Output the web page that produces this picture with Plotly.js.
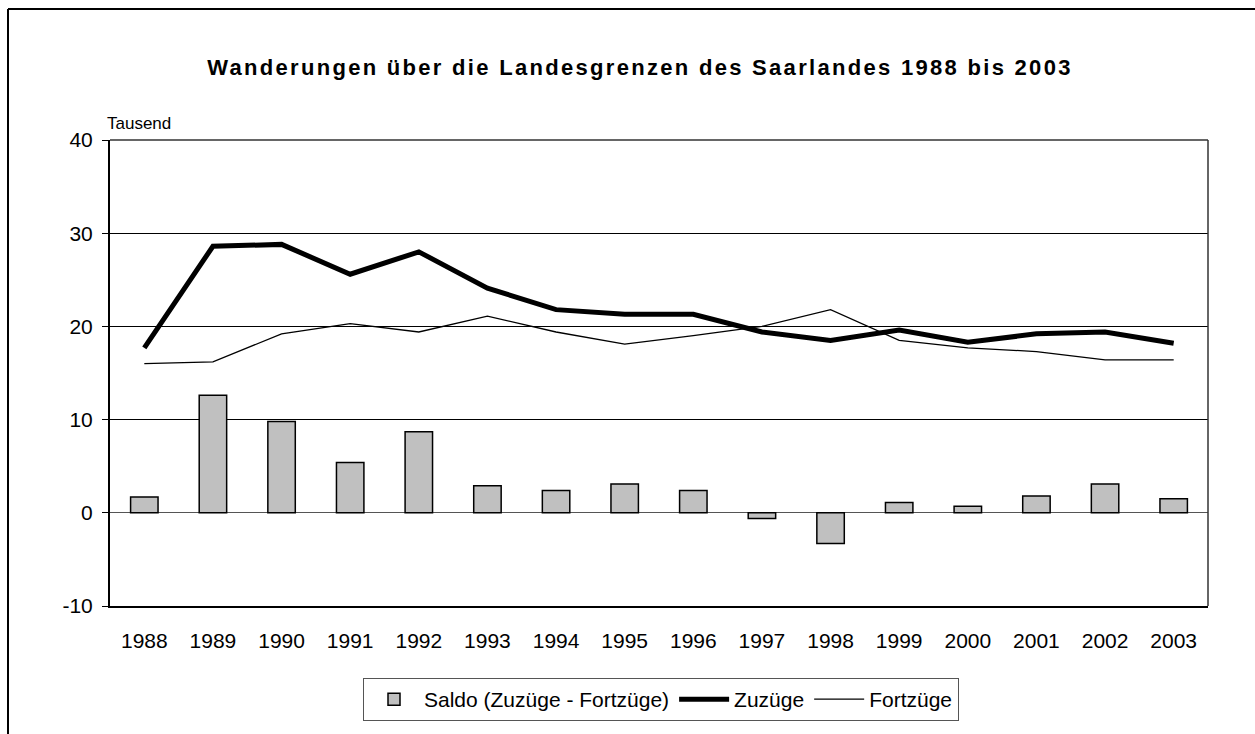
<!DOCTYPE html>
<html>
<head>
<meta charset="utf-8">
<script src="https://cdn.plot.ly/plotly-3.0.1.min.js"></script>
<style>
html,body{margin:0;padding:0;background:#fff;}
#chart{width:1255px;height:734px;}
.gtitle{letter-spacing:2.3px;}
</style>
</head>
<body>
<div id="chart"></div>
<script>
const years = ["1988","1989","1990","1991","1992","1993","1994","1995","1996","1997","1998","1999","2000","2001","2002","2003"];
const saldo = [1.7, 12.6, 9.8, 5.4, 8.7, 2.9, 2.4, 3.1, 2.4, -0.6, -3.3, 1.1, 0.7, 1.8, 3.1, 1.5];
const zuzuege = [17.7, 28.6, 28.8, 25.6, 28.0, 24.1, 21.8, 21.3, 21.3, 19.4, 18.5, 19.6, 18.3, 19.2, 19.4, 18.2];
const fortzuege = [16.0, 16.2, 19.2, 20.3, 19.4, 21.1, 19.4, 18.1, 19.0, 20.0, 21.8, 18.5, 17.7, 17.3, 16.4, 16.4];
const yTicks = [-10, 0, 10, 20, 30, 40];

const W = 1255, H = 734, ml = 110, mr = 47, mt = 140, mb = 128;
const pw = W - ml - mr, ph = H - mt - mb;
const px = x => (x - ml) / pw;
const py = y => (H - mb - y) / ph;
const FONT = "Liberation Sans, Arial, sans-serif";

const traces = [
  {type: "bar", name: "Saldo (Zuzüge - Fortzüge)", x: years, y: saldo,
   marker: {color: "#c0c0c0", line: {color: "#000", width: 1.5}}},
  {type: "scatter", mode: "lines", name: "Zuzüge", x: years, y: zuzuege,
   line: {color: "#000", width: 5}},
  {type: "scatter", mode: "lines", name: "Fortzüge", x: years, y: fortzuege,
   line: {color: "#000", width: 1.3}}
];

const layout = {
  width: W, height: H,
  margin: {l: ml, r: mr, t: mt, b: mb, pad: 0},
  paper_bgcolor: "#fff", plot_bgcolor: "#fff",
  font: {family: FONT, color: "#000", size: 20},
  title: {text: "<b>Wanderungen über die Landesgrenzen des Saarlandes 1988 bis 2003</b>",
          font: {family: FONT, size: 22, color: "#000"},
          x: px(640), xref: "paper", xanchor: "center",
          y: 1 - 67 / H, yref: "container", yanchor: "middle"},
  bargap: 0.6,
  showlegend: true,
  legend: {orientation: "h", x: px(661), xanchor: "center", y: py(678), yanchor: "top",
           bordercolor: "#555", borderwidth: 1, font: {family: FONT, size: 21},
           traceorder: "normal", itemwidth: 50, tracegroupgap: 0},
  xaxis: {type: "category", showgrid: false, showline: true, linecolor: "#000", linewidth: 2,
          ticks: "", ticklabelstandoff: 15, tickfont: {size: 21}, fixedrange: true},
  yaxis: {range: [-10, 40], tickvals: yTicks, ticktext: yTicks.map(String),
          showgrid: true, gridcolor: "#000", gridwidth: 1,
          zeroline: true, zerolinecolor: "#555", zerolinewidth: 1,
          showline: true, linecolor: "#000", linewidth: 2,
          ticks: "outside", ticklen: 6, tickcolor: "#000", tickwidth: 1,
          ticklabelstandoff: 5, tickfont: {size: 21}, fixedrange: true},
  annotations: [
    {text: "Tausend", xref: "paper", yref: "paper", x: px(105), y: py(123),
     xanchor: "left", yanchor: "middle", showarrow: false, font: {family: FONT, size: 17}}
  ],
  shapes: [
    {type: "line", xref: "paper", yref: "paper", x0: px(8), x1: px(1260), y0: py(9), y1: py(9),
     line: {color: "#000", width: 2}},
    {type: "line", xref: "paper", yref: "paper", x0: px(8), x1: px(8), y0: py(9), y1: py(740),
     line: {color: "#000", width: 2}},
    {type: "line", xref: "paper", yref: "paper", x0: 1, x1: 1, y0: 0, y1: 1,
     line: {color: "#333", width: 1.5}},
    {type: "line", xref: "paper", yref: "paper", x0: 0, x1: 1, y0: 1, y1: 1,
     line: {color: "#333", width: 1.5}}
  ]
};

Plotly.newPlot("chart", traces, layout, {displayModeBar: false, staticPlot: true});
</script>
</body>
</html>
